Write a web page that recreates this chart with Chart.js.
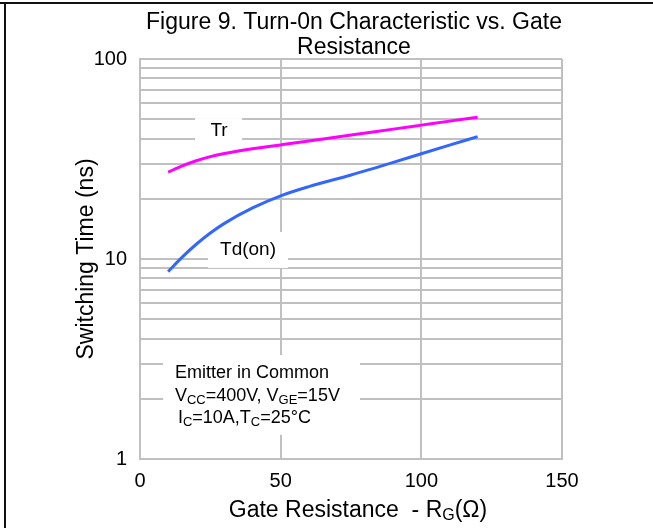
<!DOCTYPE html>
<html>
<head>
<meta charset="utf-8">
<script src="https://cdn.jsdelivr.net/npm/chart.js@4.4.1/dist/chart.umd.min.js"></script>
<style>
  html, body { margin: 0; padding: 0; background: #fff; }
  #wrap { width: 653px; height: 528px; }
</style>
</head>
<body>
<div id="wrap"><canvas id="grafica" width="653" height="528"></canvas></div>
<script>
// values
var rgValues = [10, 15, 20, 25, 30, 40, 50, 60, 75, 90, 100, 110, 120];
var trValues = [27.2, 29.2, 31.0, 32.5, 33.7, 35.6, 37.2, 38.9, 41.7, 44.6, 46.7, 48.9, 51.1];
var tdonValues = [8.65, 10.22, 11.85, 13.48, 15.07, 18.0, 20.7, 23.0, 26.3, 30.4, 33.6, 37.1, 40.9];
var xTicks = [0, 50, 100, 150];
var yTicks = [1, 2, 3, 4, 5, 6, 7, 8, 9, 10, 20, 30, 40, 50, 60, 70, 80, 90, 100];
var yLabels = [1, 10, 100];

var fuente = '"Liberation Sans", Arial, sans-serif';

function toPoints(xs, ys) {
    var out = [];
    for (var i = 0; i < xs.length; i++) {
        out.push({x: xs[i], y: ys[i]});
    }
    return out;
}

// draws text with subscripts, parts = [[text, isSub], ...]
function richText(ctx, parts, x, y, size, align) {
    var subSize = Math.round(size * 0.7);
    var total = 0;
    parts.forEach(function (p) {
        ctx.font = (p[1] ? subSize : size) + 'px ' + fuente;
        total += ctx.measureText(p[0]).width;
    });
    var cx = x;
    if (align === 'center') cx = x - total / 2;
    ctx.textAlign = 'left';
    ctx.textBaseline = 'middle';
    parts.forEach(function (p) {
        ctx.font = (p[1] ? subSize : size) + 'px ' + fuente;
        ctx.fillText(p[0], cx, p[1] ? y + size * 0.22 : y);
        cx += ctx.measureText(p[0]).width;
    });
}

var textosPlugin = {
    id: 'textos',
    beforeDraw: function (chart) {
        var ctx = chart.ctx;
        ctx.save();
        ctx.fillStyle = '#ffffff';
        ctx.fillRect(0, 0, chart.width, chart.height);
        ctx.restore();
    },
    beforeDatasetsDraw: function (chart) {
        var ctx = chart.ctx;
        var xs = chart.scales.x, ys = chart.scales.y;
        ctx.save();
        ctx.fillStyle = '#ffffff';
        // label boxes hide the grid
        var trX = xs.getPixelForValue(28.1), trY = ys.getPixelForValue(43.6);
        ctx.fillRect(trX - 24, trY - 13, 47, 24);
        var tdX = xs.getPixelForValue(38.4), tdY = ys.getPixelForValue(11.1);
        ctx.fillRect(tdX - 40, tdY - 18, 80, 36);
        var bx1 = xs.getPixelForValue(8.2), bx2 = xs.getPixelForValue(78.2);
        var by1 = ys.getPixelForValue(3.31), by2 = ys.getPixelForValue(1.32);
        ctx.fillRect(bx1, by1, bx2 - bx1, by2 - by1);

        ctx.fillStyle = '#000000';
        ctx.font = '19px ' + fuente;
        ctx.textAlign = 'center';
        ctx.textBaseline = 'middle';
        ctx.fillText('Tr', trX, trY);
        ctx.fillText('Td(on)', tdX, tdY);

        var left = xs.getPixelForValue(12.4);
        ctx.font = '18px ' + fuente;
        ctx.textAlign = 'left';
        ctx.fillText('Emitter in Common', left, by1 + 18);
        richText(ctx, [['V', false], ['CC', true], ['=400V, V', false], ['GE', true], ['=15V', false]], left, by1 + 41, 18, 'left');
        richText(ctx, [['I', false], ['C', true], ['=10A,T', false], ['C', true], ['=25°C', false]], left + 3, by1 + 63, 18, 'left');
        ctx.restore();
    },
    afterDraw: function (chart) {
        var ctx = chart.ctx;
        var area = chart.chartArea;
        var mid = (area.left + area.right) / 2;
        ctx.save();
        ctx.fillStyle = '#000000';
        ctx.font = '23px ' + fuente;
        ctx.textAlign = 'center';
        ctx.textBaseline = 'middle';
        ctx.fillText('Figure 9. Turn-0n Characteristic vs. Gate', mid + 3, 23);
        ctx.fillText('Resistance', mid + 3, 48);

        richText(ctx, [['Gate Resistance  - R', false], ['G', true], ['(\u03a9)', false]], mid + 7, 511, 23, 'center');

        ctx.translate(87, (area.top + area.bottom) / 2);
        ctx.rotate(-Math.PI / 2);
        ctx.font = '23px ' + fuente;
        ctx.textAlign = 'center';
        ctx.fillText('Switching Time (ns)', 0, 0);
        ctx.restore();

        // frame around the figure
        ctx.save();
        ctx.fillStyle = '#111111';
        ctx.fillRect(0, 2, chart.width, 2);
        ctx.fillRect(4, 2, 2, chart.height);
        ctx.restore();
    }
};

function cargarGrafica() {
    var canvas = document.getElementById('grafica').getContext('2d');
    var rejilla = {color: '#c0c0c0', lineWidth: 2, drawTicks: false};
    new Chart(canvas, {
        type: 'line',
        data: {
            datasets: [
                {
                    label: 'Tr',
                    data: toPoints(rgValues, trValues),
                    borderColor: '#ff00ff',
                    borderWidth: 3,
                    pointRadius: 0,
                    cubicInterpolationMode: 'monotone'
                },
                {
                    label: 'Td(on)',
                    data: toPoints(rgValues, tdonValues),
                    borderColor: '#3366ff',
                    borderWidth: 3,
                    pointRadius: 0,
                    cubicInterpolationMode: 'monotone'
                }
            ]
        },
        options: {
            responsive: false,
            animation: false,
            events: [],
            layout: {padding: {left: 0, top: 59, right: 91, bottom: 0}},
            plugins: {
                legend: {display: false},
                tooltip: {enabled: false}
            },
            scales: {
                x: {
                    type: 'linear',
                    min: 0,
                    max: 150,
                    grid: rejilla,
                    border: {color: '#c0c0c0', width: 2},
                    afterBuildTicks: function (scale) {
                        scale.ticks = xTicks.map(function (v) { return {value: v}; });
                    },
                    afterFit: function (scale) { scale.height = 69; },
                    ticks: {
                        color: '#000',
                        font: {family: fuente, size: 20},
                        padding: 10,
                        maxRotation: 0
                    }
                },
                y: {
                    type: 'logarithmic',
                    min: 1,
                    max: 100,
                    grid: rejilla,
                    border: {color: '#c0c0c0', width: 2},
                    afterBuildTicks: function (scale) {
                        scale.ticks = yTicks.map(function (v) { return {value: v}; });
                    },
                    afterFit: function (scale) { scale.width = 140; },
                    ticks: {
                        color: '#000',
                        font: {family: fuente, size: 20},
                        padding: 13,
                        autoSkip: false,
                        callback: function (value) {
                            return yLabels.indexOf(value) >= 0 ? String(value) : '';
                        }
                    }
                }
            }
        },
        plugins: [textosPlugin]
    });
}

cargarGrafica();
</script>
</body>
</html>
